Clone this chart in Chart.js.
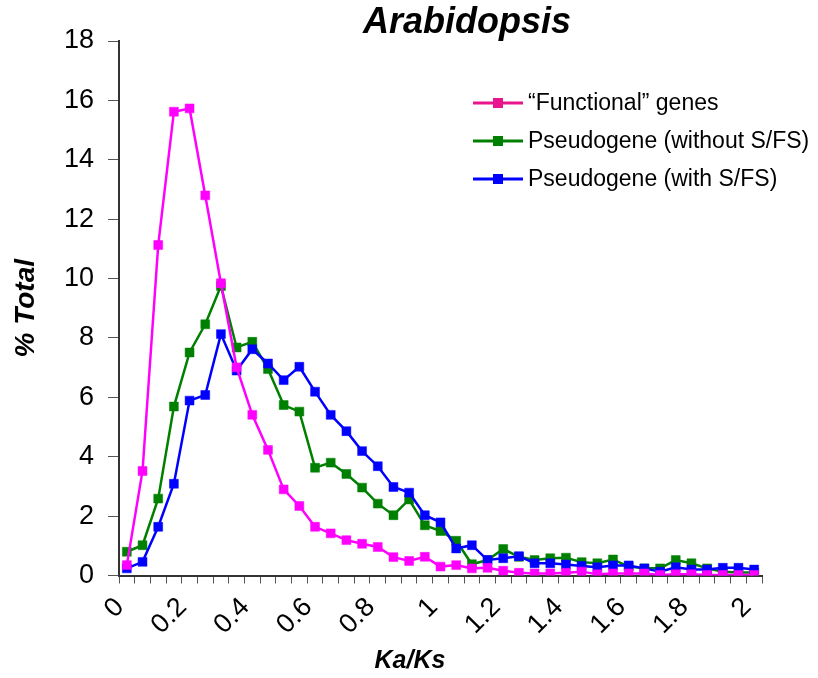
<!DOCTYPE html>
<html>
<head>
<meta charset="utf-8">
<title>Arabidopsis Ka/Ks</title>
<script src="https://cdn.jsdelivr.net/npm/chart.js@4.4.0/dist/chart.umd.min.js"></script>
<style>
  html, body { margin: 0; padding: 0; background: #fff; }
  #wrap { width: 818px; height: 678px; }
</style>
</head>
<body>
<div id="wrap"><canvas id="kaksChart" width="818" height="678"></canvas></div>
<script>
// Ka/Ks bins (0.05 wide)
const ratios = ['0', '0.05', '0.1', '0.15', '0.2', '0.25', '0.3', '0.35', '0.4', '0.45',
    '0.5', '0.55', '0.6', '0.65', '0.7', '0.75', '0.8', '0.85', '0.9', '0.95',
    '1', '1.05', '1.1', '1.15', '1.2', '1.25', '1.3', '1.35', '1.4', '1.45',
    '1.5', '1.55', '1.6', '1.65', '1.7', '1.75', '1.8', '1.85', '1.9', '1.95', '2'];
const tickLabels = ['0', '0.2', '0.4', '0.6', '0.8', '1', '1.2', '1.4', '1.6', '1.8', '2'];

// % Total per bin
const functionalGenes = [0.35, 3.52, 11.13, 15.62, 15.73, 12.8, 9.84, 7.01, 5.41, 4.23,
    2.9, 2.34, 1.64, 1.42, 1.19, 1.07, 0.96, 0.62, 0.49, 0.63,
    0.3, 0.35, 0.24, 0.26, 0.16, 0.09, 0.07, 0.07, 0.09, 0.13,
    0.04, 0.07, 0.07, 0.07, 0.02, 0.04, 0.04, 0.02, 0.02, 0.02, 0.02];
const pseudoWithoutSFS = [0.8, 1.02, 2.59, 5.69, 7.51, 8.46, 9.75, 7.68, 7.87, 6.95,
    5.74, 5.52, 3.63, 3.8, 3.42, 2.96, 2.42, 2.03, 2.56, 1.69,
    1.5, 1.17, 0.38, 0.52, 0.89, 0.63, 0.52, 0.58, 0.6, 0.45,
    0.41, 0.54, 0.3, 0.24, 0.24, 0.52, 0.41, 0.24, 0.13, 0.1, 0.1];
const pseudoWithSFS = [0.24, 0.46, 1.64, 3.09, 5.89, 6.08, 8.13, 6.9, 7.62, 7.14,
    6.58, 7.03, 6.19, 5.41, 4.86, 4.19, 3.68, 2.98, 2.79, 2.03,
    1.79, 0.91, 1.02, 0.52, 0.58, 0.65, 0.41, 0.41, 0.37, 0.32,
    0.28, 0.34, 0.34, 0.24, 0.13, 0.28, 0.2, 0.2, 0.26, 0.26, 0.2];

const FONT = '"Liberation Sans", Arial, sans-serif';

// Legend rows, in the order shown in the figure
const legendItems = [
    { text: '\u201CFunctional\u201D genes', color: '#e8158c' },
    { text: 'Pseudogene (without S/FS)', color: '#008000' },
    { text: 'Pseudogene (with S/FS)', color: '#0000ff' }
];

// titles and legend drawn by hand so they sit where the original puts them
const annotations = {
    id: 'annotations',
    afterDraw(chart) {
        const ctx = chart.ctx;
        ctx.save();
        ctx.fillStyle = '#000';
        ctx.textAlign = 'center';
        ctx.textBaseline = 'middle';
        ctx.font = 'italic bold 36px ' + FONT;
        ctx.fillText('Arabidopsis', 467, 23);
        ctx.font = 'italic bold 25px ' + FONT;
        ctx.fillText('Ka/Ks', 410, 661);

        ctx.textAlign = 'left';
        ctx.font = '23px ' + FONT;
        legendItems.forEach(function(item, i) {
            const y = 103 + i * 38;
            ctx.strokeStyle = item.color;
            ctx.lineWidth = 3;
            ctx.beginPath();
            ctx.moveTo(473, y);
            ctx.lineTo(523, y);
            ctx.stroke();
            ctx.fillStyle = item.color;
            ctx.fillRect(493, y - 5, 10, 10);
            ctx.fillStyle = '#000';
            ctx.fillText(item.text, 528, y + 1);
        });
        ctx.restore();
    }
};

function lineSet(label, data, color) {
    return {
        label: label,
        data: data,
        borderColor: color,
        backgroundColor: color,
        borderWidth: 2.5,
        pointStyle: 'rect',
        pointRadius: 6.3,
        pointBorderWidth: 0.5,
        pointBorderColor: color,
        pointBackgroundColor: color,
        tension: 0,
        fill: false
    };
}

const ctx = document.getElementById('kaksChart').getContext('2d');
const kaksChart = new Chart(ctx, {
    type: 'line',
    data: {
        labels: ratios,
        // first dataset is drawn on top
        datasets: [
            lineSet('\u201CFunctional\u201D genes', functionalGenes, '#ff00ff'),
            lineSet('Pseudogene (with S/FS)', pseudoWithSFS, '#0000ff'),
            lineSet('Pseudogene (without S/FS)', pseudoWithoutSFS, '#008000')
        ]
    },
    options: {
        responsive: false,
        animation: false,
        devicePixelRatio: 1,
        layout: { padding: { top: 41, right: 56, bottom: 0, left: 0 } },
        plugins: {
            legend: { display: false },
            tooltip: { enabled: false },
            title: { display: false }
        },
        scales: {
            x: {
                type: 'category',
                offset: true,
                grid: {
                    offset: true,
                    drawOnChartArea: false,
                    tickLength: 8,
                    color: '#555'
                },
                border: { color: '#333', width: 2 },
                ticks: {
                    autoSkip: false,
                    minRotation: 45,
                    maxRotation: 45,
                    padding: 8,
                    labelOffset: -7,
                    color: '#000',
                    font: { family: FONT, size: 27 },
                    callback: function(value, index) {
                        const lbl = ratios[index];
                        return tickLabels.includes(lbl) ? lbl : '';
                    }
                },
                afterFit: function(scale) { scale.height = 102.5; }
            },
            y: {
                min: 0,
                max: 18,
                grid: {
                    drawOnChartArea: false,
                    tickLength: 11,
                    color: '#555'
                },
                border: { color: '#333', width: 2 },
                ticks: {
                    stepSize: 2,
                    padding: 14,
                    color: '#000',
                    font: { family: FONT, size: 27 }
                },
                title: {
                    display: true,
                    text: '% Total',
                    color: '#000',
                    padding: { top: 9, bottom: 0 },
                    font: { family: FONT, size: 28, style: 'italic', weight: 'bold' }
                },
                afterFit: function(scale) { scale.width = 119; }
            }
        }
    },
    plugins: [annotations]
});
</script>
</body>
</html>
